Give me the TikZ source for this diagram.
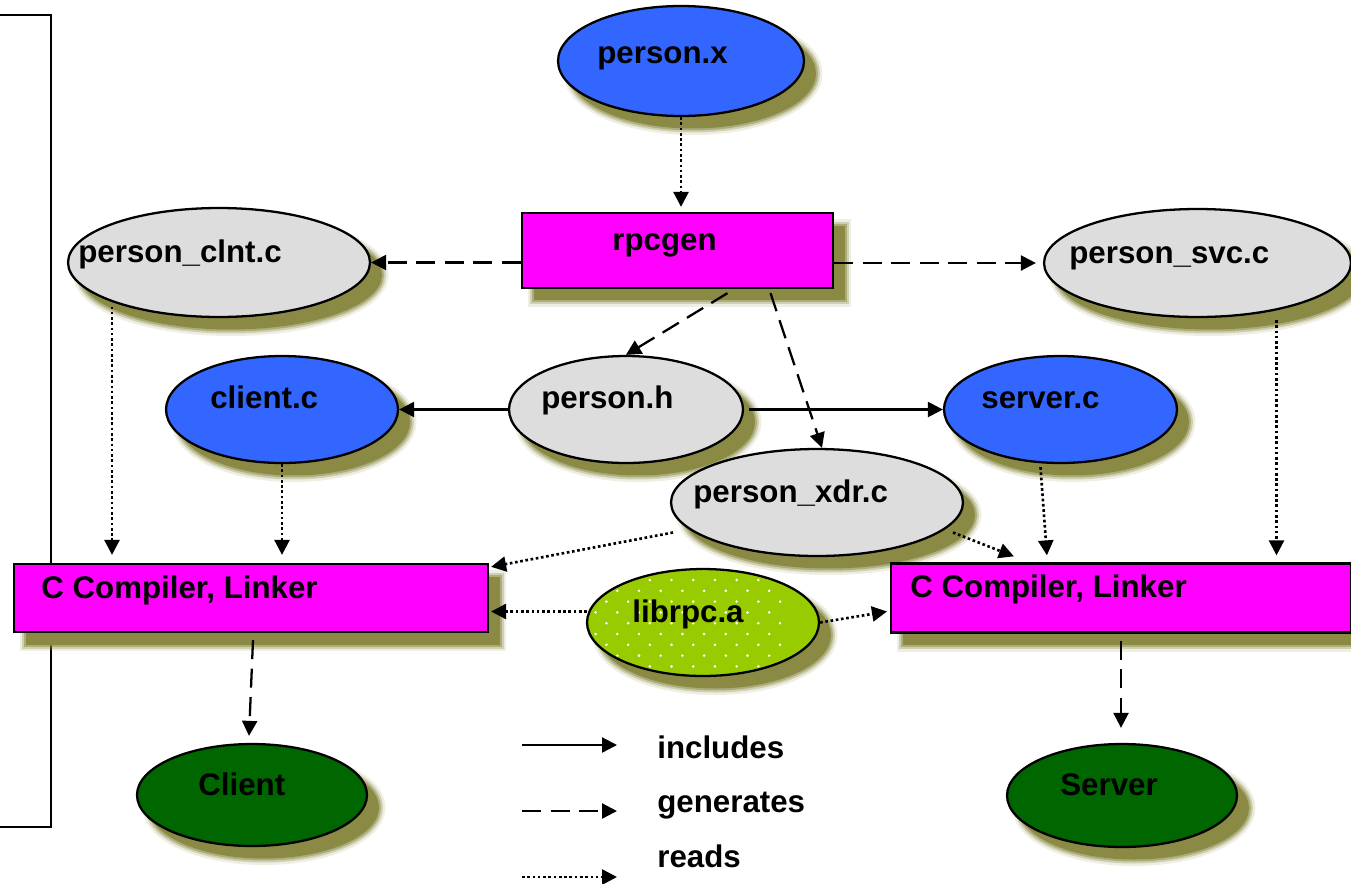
\documentclass[tikz,border=0pt]{standalone}
\usepackage{fontspec}
\setmainfont{Liberation Sans}
\usetikzlibrary{shapes.geometric,arrows.meta,shadows,calc}
\definecolor{fileblue}{HTML}{3366FF}
\definecolor{toolmag}{HTML}{FF00FF}
\definecolor{srcgrey}{HTML}{DDDDDD}
\definecolor{libgreen}{HTML}{99CC00}
\definecolor{exegreen}{HTML}{006600}
\definecolor{shcol}{HTML}{8A8A45}
\begin{document}
\begin{tikzpicture}[x=0.02cm, y=-0.02cm,
  soft/.style={
    general shadow={fill=shcol, draw=none, shadow xshift=0.24cm, shadow yshift=-0.25cm},
    general shadow={draw=shcol, fill=none, draw opacity=0.5, line width=0.08cm, shadow xshift=0.24cm, shadow yshift=-0.25cm},
    general shadow={draw=shcol, fill=none, draw opacity=0.3, line width=0.16cm, shadow xshift=0.24cm, shadow yshift=-0.25cm},
    general shadow={draw=shcol, fill=none, draw opacity=0.15, line width=0.26cm, shadow xshift=0.24cm, shadow yshift=-0.25cm}},
  ell/.style={ellipse, draw, line width=1.3pt, inner sep=0pt, soft},
  box/.style={rectangle, draw, line width=1.3pt, inner sep=0pt, soft, fill=toolmag},
  lbl/.style={anchor=base west, inner sep=0pt, font=\fontsize{17.8pt}{20pt}\selectfont\bfseries},
  inc/.style={draw, line width=1.3pt, -{Triangle[length=0.3cm,width=0.3cm]}},
  gen/.style={inc, dash pattern=on 0.38cm off 0.19cm},
  rd/.style={inc, line width=1.5pt, dash pattern=on 1.5pt off 1.5pt}]
\useasboundingbox (0,0) rectangle (1351,883);

% bracket along the left side
\draw[line width=1.2pt] (0,15) -- (51,15) -- (51,827) -- (0,827);

% files and tools
\node[ell, fill=fileblue, minimum width=4.92cm, minimum height=2.2cm] (px) at (681,61) {};
\node[box, minimum width=6.22cm, minimum height=1.5cm] (rpc) at (677.5,250.5) {};
\node[ell, fill=srcgrey, minimum width=6.04cm, minimum height=2.18cm] (clnt) at (219,262.5) {};
\node[ell, fill=srcgrey, minimum width=6.14cm, minimum height=2.16cm] (svc) at (1197.5,263) {};
\node[ell, fill=fileblue, minimum width=4.64cm, minimum height=2.14cm] (client) at (282,409.5) {};
\node[ell, fill=srcgrey, minimum width=4.68cm, minimum height=2.14cm] (personh) at (626,409.5) {};
\node[ell, fill=fileblue, minimum width=4.66cm, minimum height=2.14cm] (serverc) at (1060.5,409.5) {};
\node[ell, fill=srcgrey, minimum width=5.84cm, minimum height=2.14cm] (xdr) at (817,502.5) {};
\node[box, minimum width=9.48cm, minimum height=1.36cm] (ccl) at (251,598) {};
\node[box, minimum width=9.2cm, minimum height=1.38cm] (ccr) at (1121,598) {};
% library: green ellipse with a staggered grid of white dots
\node[ell, fill=libgreen, minimum width=4.64cm, minimum height=2.14cm,
  path picture={
    \foreach \j in {0,...,10}{
      \foreach \i in {-7,...,6}{
        \fill[white] ($(path picture bounding box.center)+({-64+21.7*\i+10.85*mod(\j,2)},{-53.3+10.8*\j})$) circle[radius=0.028cm];
      }
    }
  }] (librpc) at (703,622.5) {};
\node[ell, fill=exegreen, minimum width=4.6cm, minimum height=2.04cm] (Client) at (252,795) {};
\node[ell, fill=exegreen, minimum width=4.6cm, minimum height=2.06cm] (Server) at (1122,795.5) {};

% texts
\node[lbl] (pxt) at (597,63) {person.x};
\node[lbl] (rpct) at (612,250) {rpcgen};
\node[lbl] (clntt) at (78,262) {person\_clnt.c};
\node[lbl] (clientt) at (210,408) {client.c};
\node[lbl] (personht) at (541,408) {person.h};
\node[lbl] (xdrt) at (693,502) {person\_xdr.c};
\node[lbl] (servert) at (981,408) {server.c};
\node[lbl] (svct) at (1069,263) {person\_svc.c};
\node[lbl] (cclt) at (41,598) {C Compiler, Linker};
\node[lbl] (ccrt) at (910,597) {C Compiler, Linker};
\node[lbl] (librpct) at (632,622) {librpc.a};
\node[lbl] (Clientt) at (198,795) {Client};
\node[lbl] (Servert) at (1060,795) {Server};

% connectors
\draw[rd, shorten >=0.1cm] (px.south) -- (px.south |- rpc.north);
\draw[gen] (rpc.west |- clnt.east) -- (clnt.east);
\draw[gen, shorten >=0.14cm] (rpc.east |- svc.west) -- (svc.west);
\draw[gen] ($(rpc.south)+(50,4)$) -- (personh.north);
\draw[gen] ($(rpc.south)+(93,4)$) -- ($(xdr.north)+(5,0)$);
\draw[inc] (personh.west) -- (client.east);
\draw[inc, shorten <=0.1cm] (personh.east) -- (serverc.west);
\draw[rd, shorten >=0.16cm] ($(clnt.center)+(-107,44)$) coordinate (clntout) -- (clntout |- ccl.north);
\draw[rd, shorten >=0.16cm] (client.south) -- (client.south |- ccl.north);
\draw[rd] ($(xdr.center)+(-144,30)$) -- ($(ccl.north east)+(2,4)$);
\draw[rd, shorten >=0.04cm] ($(librpc.west)+(1,-11)$) coordinate (libout) -- (libout -| ccl.east);
\draw[rd, shorten >=0.06cm] (librpc.east) -- ($(ccr.west)+(0,13)$);
\draw[rd] ($(xdr.center)+(136,30)$) -- ($(ccr.north west)+(124,-6)$);
\draw[rd] ($(serverc.south)+(-20,3)$) -- ($(ccr.north west)+(157,-7)$);
\draw[rd, shorten >=0.14cm] ($(svc.center)+(79,57)$) coordinate (svcout) -- (svcout |- ccr.north);
\draw[gen] ($(ccl.south)+(2,7)$) -- ($(Client.north)+(-3,-7)$);
\draw[gen] ($(ccr.south)+(0,7)$) -- ($(Server.north)+(-1,-15)$);

% legend
\coordinate (k1a) at (522,745); \coordinate (k1b) at (617,745);
\coordinate (k2a) at (522,811); \coordinate (k2b) at (617,811);
\coordinate (k3a) at (522,877); \coordinate (k3b) at (617,877);
\draw[inc] (k1a) -- (k1b);
\draw[gen] (k2a) -- (k2b);
\draw[rd] (k3a) -- (k3b);
\node[lbl] (k1t) at (657,758) {includes};
\node[lbl] (k2t) at (657,812) {generates};
\node[lbl] (k3t) at (657,867) {reads};
\end{tikzpicture}
\end{document}
